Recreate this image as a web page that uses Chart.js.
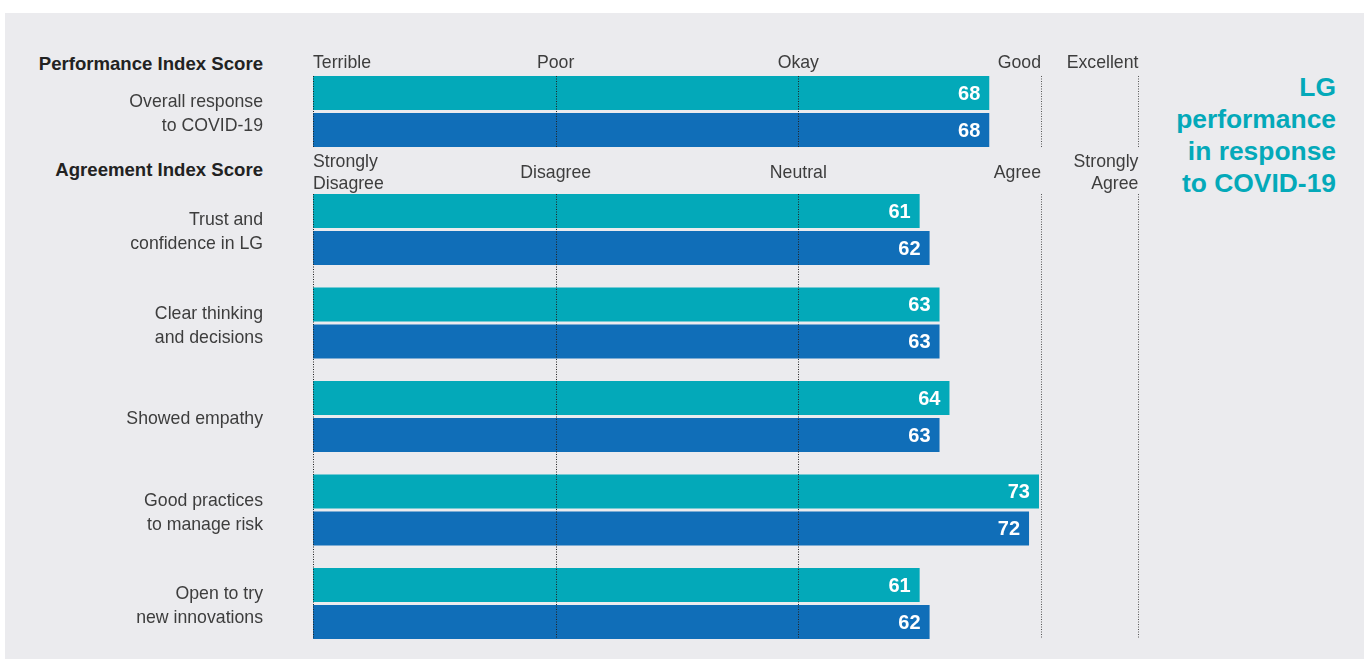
<!DOCTYPE html>
<html>
<head>
<meta charset="utf-8">
<script src="https://cdn.jsdelivr.net/npm/chart.js@4"></script>
<style>
  html, body { margin: 0; padding: 0; background: #fff; }
  body { width: 1364px; height: 659px; position: relative; overflow: hidden; font-family: "Liberation Sans", Arial, sans-serif; }
  #panel { position: absolute; left: 5px; top: 13px; right: 0; bottom: 0; background: #ebebee; }
  canvas { position: absolute; left: 0; }
  #perf { top: 40px; }
  #agree { top: 150px; }
  .head { position: absolute; right: 1101px; font-weight: bold; font-size: 18.6px; line-height: 20px; color: #222; white-space: nowrap; text-align: right; }
  #title { position: absolute; right: 28px; top: 71px; font-weight: bold; font-size: 26.4px; line-height: 32px; color: #04a9b9; text-align: right; }
</style>
</head>
<body>
<div id="panel"></div>
<div class="head" style="top:54px">Performance Index Score</div>
<div class="head" style="top:160px">Agreement Index Score</div>
<div id="title">LG<br>performance<br>in response<br>to COVID-19</div>
<canvas id="perf" width="1364" height="115"></canvas>
<canvas id="agree" width="1364" height="509"></canvas>
<script>
// data
const perfCategories = [['Overall response', 'to COVID-19']];
const perfSeries1 = [68];
const perfSeries2 = [68];

const agreeCategories = [
  ['Trust and', 'confidence in LG'],
  ['Clear thinking', 'and decisions'],
  'Showed empathy',
  ['Good practices', 'to manage risk'],
  ['Open to try', 'new innovations']
];
const agreeSeries1 = [61, 63, 64, 73, 61];
const agreeSeries2 = [62, 63, 63, 72, 62];

// scale labels and where they sit on the value axis
const perfScaleLabels = ['Terrible', 'Poor', 'Okay', 'Good', 'Excellent'];
const agreeScaleLabels = [['Strongly', 'Disagree'], 'Disagree', 'Neutral', 'Agree', ['Strongly', 'Agree']];
const scaleValues = [0, 24.4, 48.8, 73.2, 83];

// styles
const TEAL = '#03a9b9';
const BLUE = '#106eb8';
const labelAlign = ['left', 'center', 'center', 'right', 'right'];
const gridColors = ['#222', '#222', '#222', '#555', '#555'];

const overlay = {
  id: 'overlay',
  afterDatasetsDraw(chart, args, opts) {
    const ctx = chart.ctx;
    const xs = chart.scales.x;
    const first = chart.getDatasetMeta(0).data[0];
    const lastMeta = chart.getDatasetMeta(chart.data.datasets.length - 1);
    const last = lastMeta.data[lastMeta.data.length - 1];
    const top = first.y - first.height / 2;
    const bottom = last.y + last.height / 2;

    ctx.save();
    // values inside bars
    ctx.font = 'bold 20px "Liberation Sans"';
    ctx.fillStyle = '#fff';
    ctx.textAlign = 'right';
    ctx.textBaseline = 'middle';
    chart.data.datasets.forEach((ds, i) => {
      chart.getDatasetMeta(i).data.forEach((bar, j) => {
        ctx.fillText(ds.data[j], bar.x - 9, bar.y + 1);
      });
    });

    // dotted guide lines
    ctx.lineWidth = 1;
    ctx.setLineDash([1, 1.5]);
    scaleValues.forEach((v, i) => {
      const px = Math.round(xs.getPixelForValue(v)) + 0.5;
      ctx.strokeStyle = gridColors[i];
      ctx.beginPath();
      ctx.moveTo(px, top);
      ctx.lineTo(px, bottom);
      ctx.stroke();
    });
    ctx.setLineDash([]);

    // scale words above the bars
    ctx.font = '17.7px "Liberation Sans"';
    ctx.fillStyle = '#3d3d3d';
    const cy = chart.chartArea.top - opts.gap;
    opts.labels.forEach((lab, i) => {
      const lines = [].concat(lab);
      const px = xs.getPixelForValue(scaleValues[i]);
      ctx.textAlign = labelAlign[i];
      lines.forEach((t, k) => {
        ctx.fillText(t, px, cy + (k - (lines.length - 1) / 2) * 22);
      });
    });
    ctx.restore();
  }
};

function makeChart(id, categories, s1, s2, catPct, padding, scaleLabels, gap) {
  return new Chart(document.getElementById(id), {
    type: 'bar',
    data: {
      labels: categories,
      datasets: [
        { label: 'Series 1', data: s1, backgroundColor: TEAL, borderWidth: 0 },
        { label: 'Series 2', data: s2, backgroundColor: BLUE, borderWidth: 0 }
      ]
    },
    options: {
      indexAxis: 'y',
      responsive: false,
      animation: false,
      devicePixelRatio: 1,
      events: [],
      layout: { padding: padding },
      datasets: { bar: { categoryPercentage: catPct, barPercentage: 0.919 } },
      plugins: {
        legend: { display: false },
        tooltip: { enabled: false },
        overlay: { labels: scaleLabels, gap: gap }
      },
      scales: {
        x: { display: false, min: 0, max: 100 },
        y: {
          afterFit(scale) {
            scale.width = 313;
            scale.paddingTop = 0;
            scale.paddingBottom = 0;
          },
          grid: { display: false, drawTicks: false },
          border: { display: false },
          ticks: {
            autoSkip: false,
            padding: 50,
            labelOffset: 3,
            color: '#3d3d3d',
            font: { family: 'Liberation Sans', size: 17.7, lineHeight: 1.36 }
          }
        }
      }
    },
    plugins: [overlay]
  });
}

makeChart('perf', perfCategories, perfSeries1, perfSeries2, 1,
  { top: 34.5, bottom: 6.5, left: 0, right: 56.5 }, perfScaleLabels, 11.5);
makeChart('agree', agreeCategories, agreeSeries1, agreeSeries2, 0.7914,
  { top: 32.75, bottom: 8.75, left: 0, right: 56.5 }, agreeScaleLabels, 10);
</script>
</body>
</html>
